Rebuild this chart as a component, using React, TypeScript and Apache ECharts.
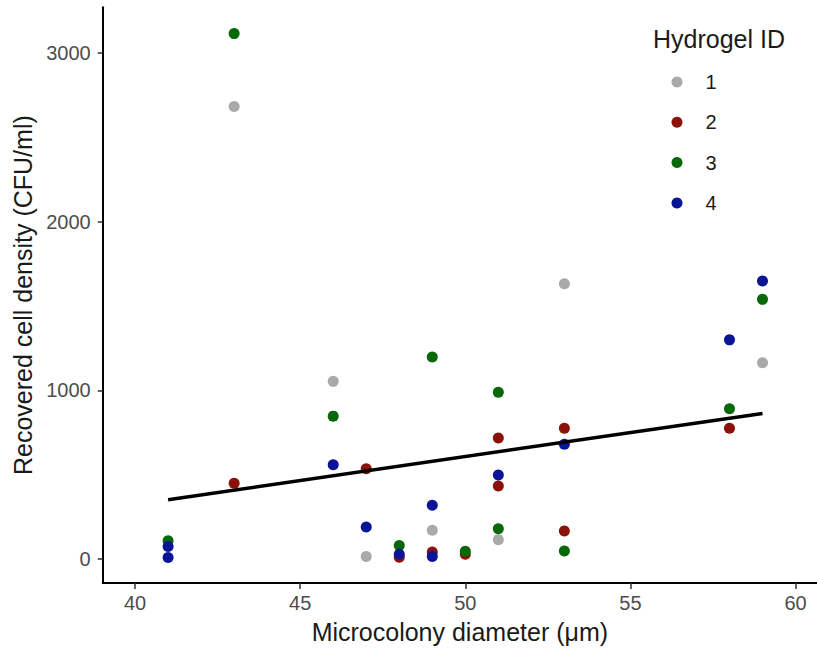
import React, { useEffect, useRef } from "react";
import * as echarts from "echarts";

// Microcolony diameter (µm) and recovered cell density (CFU/ml) per hydrogel
const hydrogelIds = ["1", "2", "3", "4"];
const hydrogelColors = ["#a9a9a9", "#8b1208", "#066806", "#0a1496"];

const gel1X = [43, 46, 47, 49, 51, 53, 59];
const gel1Y = [2683, 1054, 16, 171, 116, 1633, 1164];

const gel2X = [43, 47, 48, 49, 50, 51, 51, 53, 53, 58];
const gel2Y = [450, 536, 12, 43, 30, 719, 434, 776, 167, 776];

const gel3X = [41, 43, 46, 48, 49, 50, 51, 51, 53, 58, 59];
const gel3Y = [110, 3115, 848, 81, 1198, 47, 990, 181, 49, 892, 1540];

const gel4X = [41, 41, 46, 47, 48, 49, 49, 51, 53, 58, 59];
const gel4Y = [75, 10, 560, 191, 30, 320, 16, 499, 681, 1300, 1649];

// Linear fit line (end points)
const fitX = [41, 59];
const fitY = [353, 864];

const xTicks = [40, 45, 50, 55, 60];
const yTicks = [0, 1000, 2000, 3000];

const FONT = "Liberation Sans, Arial, Helvetica, sans-serif";

export default function App() {
  const ref = useRef<HTMLDivElement>(null);

  useEffect(() => {
    if (!ref.current) return;
    const chart = echarts.init(ref.current, null, { renderer: "svg" });
    const groupsX = [gel1X, gel2X, gel3X, gel4X];
    const groupsY = [gel1Y, gel2Y, gel3Y, gel4Y];

    const scatterSeries = hydrogelIds.map((id, i) => ({
      name: id,
      type: "scatter",
      symbol: "circle",
      symbolSize: 11,
      itemStyle: { color: hydrogelColors[i], opacity: 1 },
      data: groupsX[i].map((x, j) => [x, groupsY[i][j]]),
      z: 3,
    }));

    chart.setOption({
      animation: false,
      backgroundColor: "#ffffff",
      textStyle: { fontFamily: FONT },
      grid: { left: 102.7, right: 0, top: 7.3, bottom: 62.3, containLabel: false },
      xAxis: {
        type: "value",
        min: 39.02,
        max: 60.65,
        name: "Microcolony diameter (μm)",
        nameLocation: "middle",
        nameGap: 36,
        nameTextStyle: { fontSize: 25, color: "#1a1a1a", fontFamily: FONT },
        axisLine: { show: true, onZero: false, lineStyle: { color: "#000", width: 2 } },
        axisTick: {
          show: true,
          length: 6,
          customValues: xTicks,
          lineStyle: { color: "#333", width: 1.5 },
        },
        axisLabel: {
          customValues: xTicks,
          fontSize: 20,
          color: "#4d4d4d",
          margin: 10,
          fontFamily: FONT,
          formatter: (v: number) => String(v),
        },
        splitLine: { show: false },
      },
      yAxis: {
        type: "value",
        min: -141,
        max: 3271,
        name: "Recovered cell density (CFU/ml)",
        nameLocation: "middle",
        nameGap: 66,
        nameTextStyle: { fontSize: 25, color: "#1a1a1a", fontFamily: FONT },
        axisLine: { show: true, onZero: false, lineStyle: { color: "#000", width: 2 } },
        axisTick: {
          show: true,
          length: 5,
          customValues: yTicks,
          lineStyle: { color: "#333", width: 1.5 },
        },
        axisLabel: {
          customValues: yTicks,
          fontSize: 20,
          color: "#4d4d4d",
          margin: 12,
          fontFamily: FONT,
          formatter: (v: number) => String(v),
        },
        splitLine: { show: false },
      },
      legend: {
        orient: "vertical",
        left: 666.5,
        top: 67,
        icon: "circle",
        itemWidth: 11,
        itemHeight: 11,
        itemGap: 20.3,
        data: hydrogelIds,
        textStyle: {
          fontSize: 20,
          color: "#1a1a1a",
          fontFamily: FONT,
          padding: [0, 0, 0, 18],
          lineHeight: 20,
        },
      },
      graphic: [
        {
          type: "text",
          left: 653,
          top: 26,
          style: {
            text: "Hydrogel ID",
            fontSize: 25,
            fill: "#1a1a1a",
            fontFamily: FONT,
          },
        },
      ],
      series: [
        ...scatterSeries,
        {
          name: "fit",
          type: "line",
          data: fitX.map((x, i) => [x, fitY[i]]),
          showSymbol: false,
          symbol: "none",
          lineStyle: { color: "#000", width: 3.5 },
          z: 4,
        },
      ],
    });

    return () => chart.dispose();
  }, []);

  return (
    <div
      ref={ref}
      style={{ position: "fixed", left: 0, top: 0, width: 817, height: 649 }}
    />
  );
}
